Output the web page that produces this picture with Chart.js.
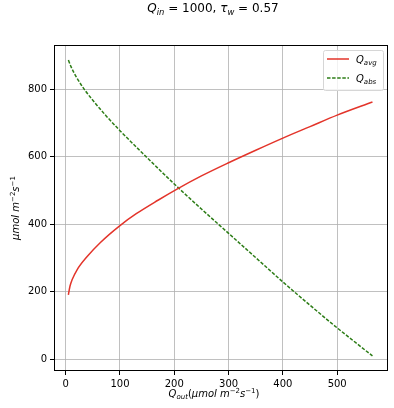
<!DOCTYPE html>
<html>
<head>
<meta charset="utf-8">
<script src="https://cdn.jsdelivr.net/npm/chart.js@4/dist/chart.umd.min.js"></script>
<style>
  html, body { margin: 0; padding: 0; background: #fff; }
  #wrap { width: 394px; height: 408px; }
</style>
</head>
<body>
<div id="wrap"><canvas id="chart-area" width="394" height="408"></canvas></div>
<script>
// values
var avgOut = [5, 8, 12, 21, 40, 64, 100, 130, 170, 205, 250, 300, 350, 400, 450, 500, 565];
var qAvg   = [191, 217, 236, 265, 305, 346, 396, 431, 471, 504, 543, 582, 619, 655, 689, 723, 762];
var absOut = [5, 10, 20, 34, 50, 75, 100, 150, 200, 250, 300, 350, 400, 450, 500, 565];
var qAbs   = [886, 866, 835, 800, 767, 720, 677, 597, 519, 445, 373, 301, 229, 160, 93, 10];
var xTicks = [0, 100, 200, 300, 400, 500];
var yTicks = [0, 200, 400, 600, 800];

var FONT = "'DejaVu Sans', sans-serif";

function pts(xs, ys) {
    var out = [];
    for (var i = 0; i < xs.length; i++) out.push({x: xs[i], y: ys[i]});
    return out;
}

// draws mathtext-like pieces: {t, it, sub, sup}
function mathWidth(ctx, parts, size) {
    var w = 0;
    parts.forEach(function (p) {
        var s = (p.sub || p.sup) ? size * 0.7 : size;
        ctx.font = (p.it ? 'oblique ' : '') + s + 'px ' + FONT;
        w += ctx.measureText(p.t).width;
    });
    return w;
}
function drawMath(ctx, x, y, parts, size, align) {
    var w = mathWidth(ctx, parts, size);
    if (align === 'center') x -= w / 2;
    ctx.textAlign = 'left';
    ctx.textBaseline = 'alphabetic';
    ctx.fillStyle = '#000';
    parts.forEach(function (p) {
        var s = (p.sub || p.sup) ? size * 0.7 : size;
        var dy = p.sub ? size * 0.22 : (p.sup ? -size * 0.42 : 0);
        ctx.font = (p.it ? 'oblique ' : '') + s + 'px ' + FONT;
        ctx.fillText(p.t, x, y + dy);
        x += ctx.measureText(p.t).width;
    });
}

var titleParts = [
    {t: 'Q', it: true}, {t: 'in', it: true, sub: true}, {t: ' = 1000, '},
    {t: 'τ', it: true}, {t: 'w', it: true, sub: true}, {t: ' = 0.57'}
];
var unitParts = [
    {t: 'μmol m', it: true}, {t: '−2', sup: true}, {t: 's', it: true}, {t: '−1', sup: true}
];
var xLabelParts = [{t: 'Q', it: true}, {t: 'out', it: true, sub: true}, {t: '('}]
    .concat(unitParts).concat([{t: ')'}]);

var decor = {
    id: 'decor',
    afterDraw: function (chart) {
        var ctx = chart.ctx, a = chart.chartArea;
        ctx.save();
        // spines
        ctx.strokeStyle = '#000';
        ctx.lineWidth = 1;
        ctx.strokeRect(Math.round(a.left) + 0.5, Math.round(a.top) + 0.5,
            Math.round(a.right - a.left) - 1, Math.round(a.bottom - a.top) - 1);

        drawMath(ctx, 213, 12, titleParts, 12, 'center');
        drawMath(ctx, 214, 397, xLabelParts, 10, 'center');

        ctx.save();
        ctx.translate(19, (a.top + a.bottom) / 2);
        ctx.rotate(-Math.PI / 2);
        drawMath(ctx, 0, 0, unitParts, 10, 'center');
        ctx.restore();

        // legend
        var lx = 323.5, ly = 50.5, lw = 60, lh = 40, r = 2;
        ctx.beginPath();
        ctx.moveTo(lx + r, ly);
        ctx.arcTo(lx + lw, ly, lx + lw, ly + lh, r);
        ctx.arcTo(lx + lw, ly + lh, lx, ly + lh, r);
        ctx.arcTo(lx, ly + lh, lx, ly, r);
        ctx.arcTo(lx, ly, lx + lw, ly, r);
        ctx.closePath();
        ctx.fillStyle = 'rgba(255,255,255,0.8)';
        ctx.fill();
        ctx.strokeStyle = '#d6d6d6';
        ctx.stroke();

        ctx.lineWidth = 1.5;
        ctx.strokeStyle = chart.data.datasets[0].borderColor;
        ctx.beginPath(); ctx.moveTo(327, 59); ctx.lineTo(349, 59); ctx.stroke();
        ctx.strokeStyle = chart.data.datasets[1].borderColor;
        ctx.setLineDash(chart.data.datasets[1].borderDash);
        ctx.beginPath(); ctx.moveTo(327, 78); ctx.lineTo(349, 78); ctx.stroke();
        ctx.setLineDash([]);
        drawMath(ctx, 356, 63, [{t: 'Q', it: true}, {t: 'avg', it: true, sub: true}], 10);
        drawMath(ctx, 356, 82, [{t: 'Q', it: true}, {t: 'abs', it: true, sub: true}], 10);
        ctx.restore();
    }
};

var config = {
    type: 'line',
    data: {
        datasets: [{
            label: 'Q_avg',
            data: pts(avgOut, qAvg),
            borderColor: '#e3342a',
            borderWidth: 1.5,
            pointRadius: 0,
            cubicInterpolationMode: 'monotone'
        }, {
            label: 'Q_abs',
            data: pts(absOut, qAbs),
            borderColor: '#2d7d17',
            borderWidth: 1.5,
            borderDash: [3.5, 1.6],
            pointRadius: 0,
            cubicInterpolationMode: 'monotone'
        }]
    },
    options: {
        responsive: false,
        animation: false,
        layout: {padding: {left: 0, top: 45, right: 6, bottom: 0}},
        plugins: {legend: {display: false}, title: {display: false}, tooltip: {enabled: false}},
        scales: {
            x: {
                type: 'linear',
                min: -21.5, max: 593.6,
                afterBuildTicks: function (s) { s.ticks = xTicks.map(function (v) { return {value: v}; }); },
                afterFit: function (s) { s.height = 37; },
                grid: {color: '#b0b0b0', lineWidth: 0.8, tickColor: '#000', tickLength: 4, tickWidth: 1},
                border: {display: false},
                ticks: {color: '#000', padding: 3, maxRotation: 0, font: {family: FONT, size: 10}}
            },
            y: {
                type: 'linear',
                min: -34.7, max: 930.7,
                afterBuildTicks: function (s) { s.ticks = yTicks.map(function (v) { return {value: v}; }); },
                afterFit: function (s) { s.width = 54; },
                grid: {color: '#b0b0b0', lineWidth: 0.8, tickColor: '#000', tickLength: 4, tickWidth: 1},
                border: {display: false},
                ticks: {color: '#000', padding: 3, font: {family: FONT, size: 10}}
            }
        }
    },
    plugins: [decor]
};

window.onload = function () {
    var ctx = document.getElementById('chart-area').getContext('2d');
    window.myChart = new Chart(ctx, config);
};
</script>
</body>
</html>
